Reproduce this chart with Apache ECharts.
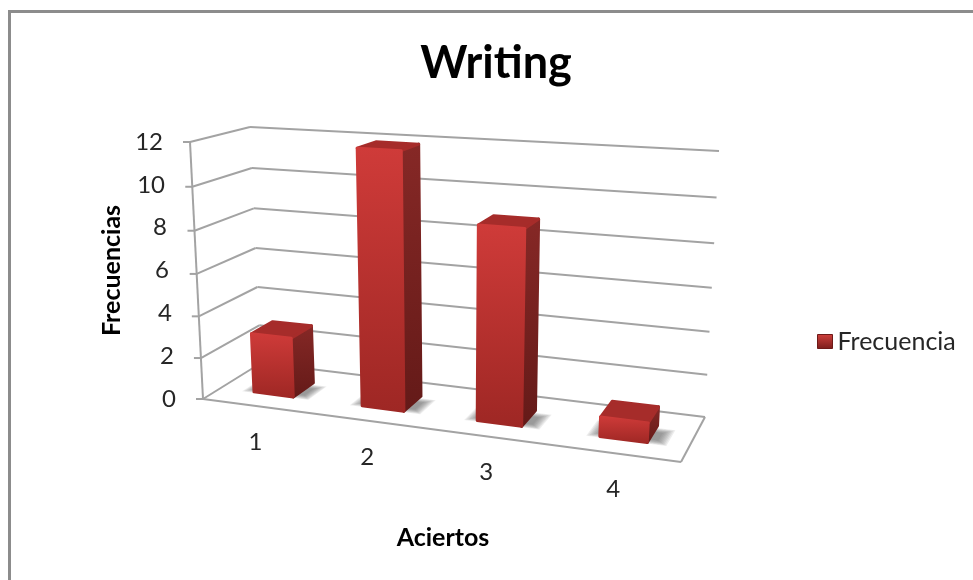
<!DOCTYPE html>
<html>
<head>
<meta charset="utf-8">
<style>html,body{margin:0;padding:0;background:#fff}#chart{width:973px;height:580px}</style>
<script src="https://cdn.jsdelivr.net/npm/echarts@6/dist/echarts.min.js"></script>
</head>
<body>
<div id="chart"></div>
<script>
// Exam results: how many students got each number of answers right.
const categories = ['1', '2', '3', '4'];
const frecuencia = [3, 12, 9, 1];
const valueTicks = [0, 2, 4, 6, 8, 10, 12];

const FONT = 'Lato';
const TEXT = '#262626';
const LINE = '#a3a3a3';
const FRAME = '#8c8c8c';

// Plot box on the page and the corners of the two vertical planes of the box,
// ordered bottom-left, bottom-right, top-right, top-left.
const GRID = { left: 190, right: 277, top: 142, bottom: 181 };
const FRONT_PLANE = [[203, 399], [681, 462], [696, 172], [190, 142]];
const BACK_PLANE = [[261, 363], [705, 417], [719, 151], [250, 127]];
const BAR_DEPTH = [0.315, 0.695];
const BAR_SHARE = 0.37;
const BEVEL = 2.5;

function quadMap(q) {
  const [[x0, y0], [x1, y1], [x2, y2], [x3, y3]] = q;
  const dx1 = x1 - x2, dx2 = x3 - x2, sx = x0 - x1 + x2 - x3;
  const dy1 = y1 - y2, dy2 = y3 - y2, sy = y0 - y1 + y2 - y3;
  const den = dx1 * dy2 - dx2 * dy1;
  const g = (sx * dy2 - dx2 * sy) / den, h = (dx1 * sy - sx * dy1) / den;
  const a = x1 - x0 + g * x1, b = x3 - x0 + h * x3;
  const d = y1 - y0 + g * y1, e = y3 - y0 + h * y3;
  return (u, v) => {
    const k = g * u + h * v + 1;
    return [(a * u + b * v + x0) / k, (d * u + e * v + y0) / k];
  };
}
const frontAt = quadMap(FRONT_PLANE);
const backAt = quadMap(BACK_PLANE);

// u: along the categories, v: up the value axis, w: into the depth of the box.
function project(u, v, w) {
  const f = frontAt(u, v), b = backAt(u, v);
  return [f[0] + (b[0] - f[0]) * w, f[1] + (b[1] - f[1]) * w];
}
function toUV(api, coordSys, cat, val) {
  const p = api.coord([cat, val]);
  return [(p[0] - coordSys.x) / coordSys.width, (coordSys.y + coordSys.height - p[1]) / coordSys.height];
}
const vGrad = (a, b) => new echarts.graphic.LinearGradient(0, 0, 0, 1, [
  { offset: 0, color: a }, { offset: 1, color: b }
]);
const poly = (points, style, z2) => ({ type: 'polygon', shape: { points }, style, z2: z2 || 0 });
const seg = (a, b, stroke, lineWidth) => ({
  type: 'line',
  shape: { x1: a[0], y1: a[1], x2: b[0], y2: b[1] },
  style: { stroke, lineWidth, fill: null }
});

// Walls, floor and the slanted value axis.
function renderWall(params, api) {
  const cs = params.coordSys;
  const [, v] = toUV(api, cs, 0, api.value(1));
  const fl = project(0, v, 0), bl = project(0, v, 1), br = project(1, v, 1);
  const kids = [
    seg(fl, bl, LINE, 2),
    seg(bl, br, LINE, 2),
    seg([fl[0] - 7, fl[1]], fl, LINE, 2)
  ];
  if (params.dataIndex === 0) {
    kids.push(seg(fl, project(1, 0, 0), LINE, 2));
    kids.push(seg(project(1, 0, 0), project(1, 0, 1), LINE, 2));
    kids.push(seg(fl, project(0, 1, 0), LINE, 2));
  }
  return { type: 'group', children: kids };
}

// Soft contact shadow on the floor, built from stacked translucent layers.
function floorShadow(u0, u1, w0, w1) {
  const layers = [];
  for (let i = 7; i >= 0; i--) {
    const du = 0.0028 * i, dw = 0.013 * i;
    layers.push(poly(
      [project(u0 - 0.006 - du, 0, w0 + 0.07 - dw), project(u1 + 0.018 + du, 0, w0 + 0.07 - dw),
       project(u1 + 0.018 + du, 0, w1 - 0.14 + dw), project(u0 - 0.006 - du, 0, w1 - 0.14 + dw)],
      { fill: 'rgba(95,95,95,0.11)' }
    ));
  }
  return layers;
}

function renderBar(params, api) {
  const cs = params.coordSys;
  const cat = api.value(0);
  const [uc, vTop] = toUV(api, cs, cat, api.value(1));
  const half = api.size([1, 0])[0] * BAR_SHARE / 2 / cs.width;
  const u0 = uc - half, u1 = uc + half;
  const [w0, w1] = BAR_DEPTH;
  const top = (u, w) => {
    const p = project(u, vTop, w);
    return [p[0], p[1] + BEVEL];
  };

  const ffb0 = project(u0, 0, w0), ffb1 = project(u1, 0, w0);
  const bbb1 = project(u1, 0, w1);
  const fft0 = top(u0, w0), fft1 = top(u1, w0);
  const bbt0 = top(u0, w1), bbt1 = top(u1, w1);

  const label = project(uc, 0, 0);
  const face = (fill) => ({ fill, stroke: fill, lineWidth: 3, lineJoin: 'round' });

  return {
    type: 'group',
    children: floorShadow(u0, u1, w0, w1).concat([
      poly([fft1, bbt1, bbb1, ffb1], face(vGrad('#862826', '#641a18')), 1),
      poly([fft0, bbt0, bbt1, fft1], face('#a62c2a'), 1),
      poly([ffb0, ffb1, fft1, fft0], face(vGrad('#cf3b39', '#9e2724')), 2),
      {
        type: 'text', z2: 3,
        x: label[0] - 1, y: label[1] + 36,
        style: {
          text: categories[cat], font: '24px ' + FONT, fill: TEXT,
          align: 'center', verticalAlign: 'middle'
        }
      }
    ])
  };
}

// Labels step sideways so that they follow the slanted axis.
const rich = {};
valueTicks.forEach(t => {
  rich['t' + t] = {
    fontFamily: FONT, fontSize: 24, color: TEXT,
    padding: [0, Math.round(13 * t / 12), 0, 0]
  };
});

const chart = echarts.init(document.getElementById('chart'), null, { renderer: 'canvas' });
chart.setOption({
  animation: false,
  backgroundColor: '#fff',
  title: {
    text: 'Writing', left: 496, top: 41, padding: 0, textAlign: 'center',
    textStyle: { fontFamily: FONT, fontWeight: 'bold', fontSize: 45, color: '#000' }
  },
  legend: {
    left: 817, top: 329, padding: 0,
    data: [{
      name: 'Frecuencia', icon: 'rect',
      itemStyle: { color: vGrad('#d0403c', '#7a1d1b'), borderColor: '#6e1a18', borderWidth: 1 }
    }],
    itemWidth: 15, itemHeight: 14,
    textStyle: { fontFamily: FONT, fontSize: 25, color: TEXT }
  },
  grid: GRID,
  // Chart frame: only the top and left edges fall inside the page.
  graphic: [
    { type: 'line', shape: { x1: 9.5, y1: 11.5, x2: 973, y2: 11.5 }, style: { stroke: FRAME, lineWidth: 3 } },
    { type: 'line', shape: { x1: 9.5, y1: 10, x2: 9.5, y2: 580 }, style: { stroke: FRAME, lineWidth: 3 } }
  ],
  xAxis: {
    type: 'category', data: categories,
    name: 'Aciertos', nameLocation: 'middle', nameGap: 126,
    nameTextStyle: { fontFamily: FONT, fontWeight: 'bold', fontSize: 25, color: '#000' },
    axisLine: { show: false }, axisTick: { show: false }, axisLabel: { show: false },
    splitLine: { show: false }
  },
  yAxis: {
    type: 'value', min: 0, max: 12, interval: 2,
    name: 'Frecuencias', nameLocation: 'middle', nameGap: 60, nameRotate: 90,
    nameTextStyle: { fontFamily: FONT, fontWeight: 'bold', fontSize: 25, color: '#000' },
    axisLine: { show: false }, axisTick: { show: false }, splitLine: { show: false },
    axisLabel: { margin: 14, formatter: v => `{t${v}|${v}}`, rich }
  },
  series: [
    {
      type: 'custom', name: 'Paredes', silent: true, z: 1,
      data: valueTicks.map(t => [0, t]),
      encode: { x: 0, y: 1 },
      renderItem: renderWall
    },
    {
      type: 'custom', name: 'Frecuencia', z: 2,
      data: frecuencia.map((v, i) => [i, v]),
      encode: { x: 0, y: 1 },
      renderItem: renderBar
    }
  ]
});
</script>
</body>
</html>
